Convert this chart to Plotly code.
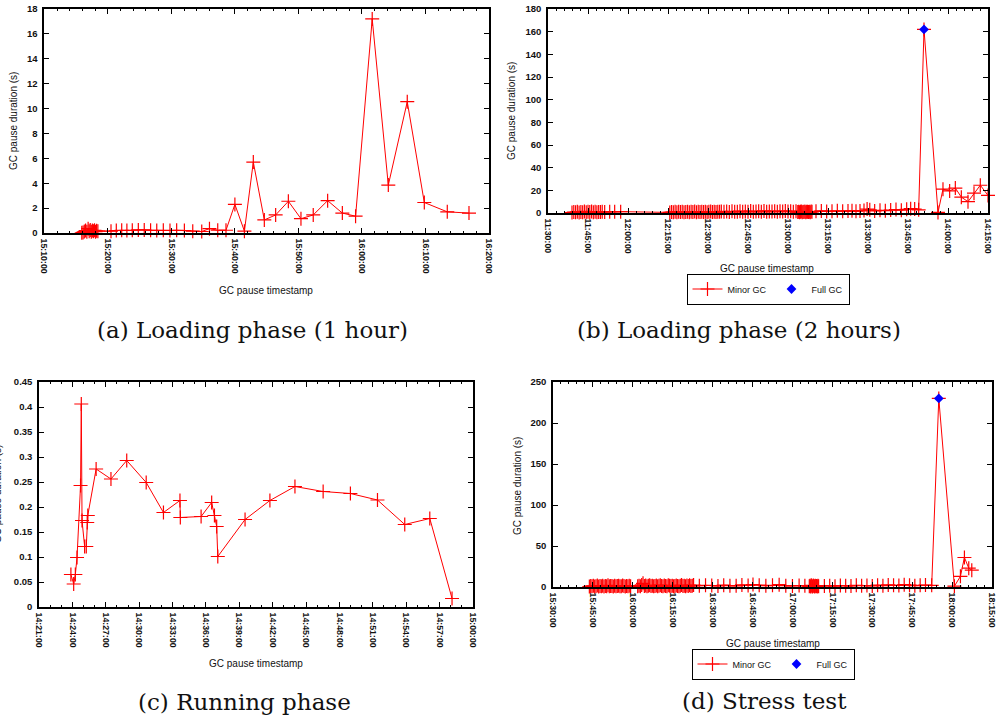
import pandas as pd
import plotly.graph_objects as go

DAY = "2015-06-01 "
W, H = 998, 717

# ---------------- (a) Loading phase (1 hour) ----------------
a_time = ["15:15:54", "15:16:06", "15:16:18", "15:16:30", "15:16:42", "15:16:54", "15:17:04",
          "15:17:14", "15:17:24", "15:17:34", "15:17:44", "15:17:54", "15:18:04", "15:18:14",
          "15:18:26", "15:20:30", "15:21:20", "15:22:11", "15:23:00", "15:23:51", "15:24:48",
          "15:25:44", "15:26:44", "15:27:42", "15:28:44", "15:29:47", "15:30:50", "15:32:03",
          "15:33:22", "15:34:47", "15:36:00", "15:37:18", "15:38:36", "15:40:00", "15:41:30",
          "15:42:54", "15:44:38", "15:46:25", "15:48:25", "15:50:24", "15:52:20", "15:54:36",
          "15:56:55", "15:59:00", "16:01:37", "16:04:09", "16:07:08", "16:09:49", "16:13:26",
          "16:16:51"]
a_pause = [0.02, 0.05, 0.12, 0.2, 0.1, 0.35, 0.15,
           0.25, 0.1, 0.2, 0.15, 0.22, 0.1, 0.18,
           0.15, 0.15, 0.2, 0.22, 0.2, 0.22, 0.25,
           0.25, 0.22, 0.2, 0.22, 0.2, 0.22, 0.2,
           0.15, 0.12, 0.35, 0.22, 0.22, 2.3, 0.15,
           5.7, 1.05, 1.45, 2.55, 1.15, 1.45, 2.6,
           1.6, 1.35, 17.2, 3.85, 10.55, 2.45, 1.7,
           1.6]

# ---------------- (b) Loading phase (2 hours) ----------------
b_minor_time = [
    "11:39:00", "11:39:40", "11:40:20", "11:41:00", "11:41:40", "11:42:20", "11:43:00", "11:43:40",
    "11:44:20", "11:45:00", "11:45:40", "11:46:20", "11:47:00", "11:47:40", "11:48:20", "11:49:00",
    "11:49:40", "11:50:20", "11:51:15", "11:53:08", "11:55:00", "11:57:15",
    "12:15:40", "12:16:20", "12:17:00", "12:17:40", "12:18:20", "12:19:00", "12:19:40", "12:20:20",
    "12:21:00", "12:21:40", "12:22:20", "12:23:00", "12:23:40", "12:24:20", "12:25:00", "12:25:40",
    "12:26:20", "12:27:00", "12:27:40", "12:28:20", "12:29:00", "12:29:40", "12:30:20", "12:31:00",
    "12:31:40", "12:32:20", "12:33:00", "12:33:40", "12:34:20", "12:35:00",
    "12:36:00", "12:37:00", "12:38:00", "12:39:00", "12:40:00", "12:41:00", "12:42:00", "12:43:00",
    "12:44:00", "12:45:00", "12:46:00", "12:47:00", "12:48:00", "12:49:00", "12:50:00", "12:51:00",
    "12:52:00", "12:53:00", "12:54:00", "12:55:00", "12:56:00", "12:57:00", "12:58:00", "12:59:00",
    "13:00:00", "13:01:00", "13:02:00", "13:03:00",
    "13:03:40", "13:04:00", "13:04:20", "13:04:40", "13:05:00", "13:05:20", "13:05:40", "13:06:00",
    "13:06:20", "13:06:40", "13:07:00", "13:07:20", "13:07:40", "13:08:00", "13:08:20", "13:08:40",
    "13:09:00",
    "13:10:30", "13:12:30", "13:14:30", "13:16:30", "13:18:30", "13:20:30", "13:22:30", "13:24:00",
    "13:25:30", "13:27:00", "13:28:30", "13:29:40", "13:30:40", "13:32:30", "13:34:30", "13:36:30",
    "13:38:30", "13:40:30", "13:42:30", "13:44:30", "13:46:00", "13:47:30", "13:49:00",
    "13:51:00",
    "13:56:15", "13:58:07", "14:00:37", "14:02:45", "14:05:00", "14:07:30", "14:09:45", "14:12:07",
    "14:15:00"]
b_minor_pause = [
    0.4, 0.8, 0.6, 1.2, 0.5, 0.9, 0.7, 1.4,
    0.6, 1.0, 0.8, 1.3, 0.7, 1.1, 0.6, 0.9,
    0.8, 1.2, 0.9, 1.1, 1.0, 1.2,
    0.5, 0.9, 0.7, 1.1, 0.6, 1.0, 0.8, 1.2,
    0.7, 0.9, 1.1, 0.6, 1.0, 0.8, 1.3, 0.7,
    1.0, 0.9, 1.2, 0.8, 1.1, 0.7, 1.0, 1.3,
    0.9, 1.1, 0.8, 1.2, 1.0, 1.4,
    1.0, 1.3, 0.9, 1.5, 1.1, 1.2, 1.6, 1.0,
    1.4, 1.2, 1.7, 1.1, 1.3, 1.5, 1.2, 1.8,
    1.1, 1.4, 1.3, 1.6, 1.2, 1.5, 1.4, 1.7,
    1.3, 1.6, 1.2, 1.5,
    0.8, 1.2, 0.6, 1.0, 1.4, 0.7, 1.1, 0.9,
    1.3, 0.6, 1.0, 1.2, 0.8, 1.1, 0.7, 1.3,
    1.0,
    1.5, 1.8, 1.4, 1.6, 1.9, 1.5, 1.7, 2.0,
    1.6, 1.8, 2.2, 3.5, 2.8, 1.8, 2.4, 2.0,
    2.6, 3.0, 2.5, 3.2, 3.8, 3.5, 2.8,
    162.0,
    0.5, 21.0, 19.5, 22.0, 14.0, 10.0, 17.5, 24.5,
    15.5]
b_full_time = ["13:51:00"]
b_full_pause = [162.0]

# ---------------- (c) Running phase ----------------
c_time = ["14:23:52", "14:24:07", "14:24:16", "14:24:25", "14:24:44", "14:24:48", "14:24:52",
          "14:25:06", "14:25:15", "14:25:20", "14:25:23", "14:26:08", "14:27:28", "14:28:53",
          "14:30:38", "14:32:11", "14:33:40", "14:33:42", "14:35:34", "14:36:31", "14:36:46",
          "14:36:58", "14:37:04", "14:39:31", "14:41:45", "14:44:00", "14:46:32", "14:48:59",
          "14:51:25", "14:53:52", "14:56:07", "14:58:07"]
c_pause = [0.065, 0.046, 0.065, 0.099, 0.243, 0.406, 0.173,
           0.121, 0.121, 0.169, 0.183, 0.276, 0.256, 0.293,
           0.249, 0.189, 0.213, 0.179, 0.181, 0.209, 0.183,
           0.161, 0.101, 0.175, 0.213, 0.241, 0.231, 0.227,
           0.214, 0.165, 0.177, 0.017]

# ---------------- (d) Stress test ----------------
d_minor_time = [
    "15:43:40", "15:44:10", "15:44:40", "15:45:10", "15:45:40", "15:46:10", "15:46:40", "15:47:10",
    "15:47:40", "15:48:10", "15:48:40", "15:49:10", "15:49:40", "15:50:10", "15:50:40", "15:51:10",
    "15:51:40", "15:52:10", "15:52:40", "15:53:10", "15:53:40", "15:54:10", "15:54:40", "15:55:10",
    "15:55:40", "15:56:10", "15:56:40", "15:57:10", "15:57:40", "15:58:10", "15:58:40", "15:59:10",
    "16:01:50", "16:02:20", "16:02:50", "16:03:20", "16:03:50", "16:04:20", "16:04:50", "16:05:20",
    "16:05:50", "16:06:20", "16:06:50", "16:07:20", "16:07:50", "16:08:20", "16:08:50", "16:09:20",
    "16:09:50", "16:10:20", "16:10:50", "16:11:20", "16:11:50", "16:12:20", "16:12:50", "16:13:20",
    "16:13:50", "16:14:20", "16:14:50", "16:15:20", "16:15:50", "16:16:20", "16:16:50", "16:17:20",
    "16:17:50", "16:18:20", "16:18:50", "16:19:20", "16:19:50", "16:20:20", "16:20:50", "16:21:20",
    "16:21:50", "16:22:20", "16:22:50",
    "16:25:00", "16:27:20", "16:29:40", "16:32:00", "16:34:10", "16:36:30", "16:38:50", "16:41:00",
    "16:43:20", "16:45:10", "16:47:30", "16:50:00", "16:52:30", "16:55:00", "16:57:30", "17:00:00",
    "17:02:30", "17:04:40",
    "17:06:20", "17:06:35", "17:06:50", "17:07:05", "17:07:20", "17:07:35", "17:07:50", "17:08:05",
    "17:08:20", "17:08:35", "17:08:50", "17:09:05", "17:09:20", "17:09:35", "17:09:50",
    "17:12:00", "17:14:00", "17:16:00", "17:18:00", "17:20:00", "17:22:00", "17:24:00", "17:26:00",
    "17:28:00", "17:30:00", "17:32:00", "17:34:00", "17:36:00", "17:38:00", "17:40:00", "17:42:00",
    "17:44:00", "17:46:00", "17:48:00", "17:50:00", "17:52:20",
    "17:55:00",
    "18:00:52", "18:03:08", "18:04:38", "18:06:16", "18:07:24"]
d_minor_pause = [
    0.5, 1.2, 0.8, 1.5, 0.7, 1.0, 1.8, 0.6,
    1.1, 0.9, 1.4, 0.7, 1.2, 1.0, 2.0, 0.8,
    1.3, 1.1, 0.6, 1.6, 0.9, 1.2, 1.4, 0.8,
    1.0, 1.7, 1.1, 0.7, 1.3, 0.9, 1.5, 1.0,
    1.0, 1.5, 0.8, 2.5, 4.5, 1.2, 1.8, 0.9,
    1.4, 2.0, 1.1, 1.6, 0.8, 1.3, 1.9, 1.0,
    1.5, 2.2, 1.2, 0.9, 1.7, 1.3, 1.0, 2.0,
    1.4, 1.1, 1.6, 0.9, 1.3, 1.8, 1.2, 1.0,
    1.5, 2.3, 1.1, 1.4, 1.0, 1.7, 1.2, 2.0,
    1.3, 1.6, 2.4,
    1.5, 2.0, 1.8, 1.2, 2.2, 1.6, 1.4, 2.5,
    1.8, 3.0, 2.2, 1.5, 2.0, 2.8, 1.6, 1.2,
    1.8, 1.4,
    0.8, 1.5, 0.6, 2.0, 1.0, 0.7, 1.8, 1.2,
    0.5, 1.6, 0.9, 1.3, 0.6, 1.4, 1.0,
    1.2, 1.6, 1.0, 1.8, 1.4, 1.2, 2.0, 1.5,
    1.8, 1.3, 2.2, 1.6, 2.5, 2.0, 1.8, 2.8,
    2.2, 1.5, 2.0, 2.4, 2.0,
    230.0,
    1.0, 13.0, 36.0, 23.0, 20.5]
d_full_time = ["17:55:00"]
d_full_pause = [230.0]

# ---------------- axes settings ----------------
panels = {
    "a": dict(x_range=["15:10:00", "16:20:00"], x_major=10, x_minor=2, y_range=[0, 18], y_dtick=2),
    "b": dict(x_range=["11:30:00", "14:15:00"], x_major=15, x_minor=3, y_range=[0, 180], y_dtick=20),
    "c": dict(x_range=["14:21:00", "15:00:00"], x_major=3, x_minor=1, y_range=[0, 0.45], y_dtick=0.05),
    "d": dict(x_range=["15:30:00", "18:15:00"], x_major=15, x_minor=3, y_range=[0, 250], y_dtick=50),
}
captions = ["(a) Loading phase (1 hour)", "(b) Loading phase (2 hours)",
            "(c) Running phase", "(d) Stress test"]
x_title = "GC pause timestamp"
y_title = "GC pause duration (s)"

RED = "#ff0000"
BLUE = "#0000ff"
YTICKFONT = dict(family="Liberation Sans", size=9.5, color="#111111", weight="bold")
XTICKFONT = dict(family="Liberation Sans", size=8.8, color="#111111", weight="bold")
TITLEFONT = dict(family="Liberation Sans", size=10, color="#111111")


def when(times):
    return pd.to_datetime([DAY + t for t in times])


def minor_trace(x, y, xa, ya, show=False, legend="legend"):
    return go.Scatter(
        x=when(x), y=y, xaxis=xa, yaxis=ya, mode="lines+markers", name="Minor GC",
        line=dict(color=RED, width=1),
        marker=dict(symbol="cross-thin", size=10, color=RED, line=dict(color=RED, width=1.2)),
        cliponaxis=False, showlegend=show, legend=legend)


def full_trace(x, y, xa, ya, legend):
    return go.Scatter(
        x=when(x), y=y, xaxis=xa, yaxis=ya, mode="markers", name="Full GC",
        marker=dict(symbol="diamond", size=7.5, color=BLUE, line=dict(width=0)),
        cliponaxis=False, showlegend=True, legend=legend)


fig = go.Figure()
fig.add_trace(minor_trace(a_time, a_pause, "x", "y"))
fig.add_trace(minor_trace(b_minor_time, b_minor_pause, "x2", "y2", show=True, legend="legend"))
fig.add_trace(full_trace(b_full_time, b_full_pause, "x2", "y2", legend="legend"))
fig.add_trace(minor_trace(c_time, c_pause, "x3", "y3"))
fig.add_trace(minor_trace(d_minor_time, d_minor_pause, "x4", "y4", show=True, legend="legend2"))
fig.add_trace(full_trace(d_full_time, d_full_pause, "x4", "y4", legend="legend2"))

# plot-area boxes in pixels: left, right, top, bottom
boxes = {"a": (44.3, 489, 9, 233), "b": (548, 988, 9, 213),
         "c": (39, 473, 382, 607), "d": (553, 992, 382, 587)}


def xaxis_cfg(p, anchor):
    cfg = panels[p]
    l, r, t, b = boxes[p]
    return dict(
        domain=[l / W, r / W], anchor=anchor, type="date",
        range=[DAY + cfg["x_range"][0], DAY + cfg["x_range"][1]],
        tickformat="%H:%M:%S", dtick=cfg["x_major"] * 60000, tick0=DAY + cfg["x_range"][0],
        tickangle=90, ticks="inside", ticklen=5, tickwidth=1, tickcolor="black",
        showline=True, linecolor="black", linewidth=1.5, mirror="allticks",
        showgrid=False, zeroline=False, tickfont=XTICKFONT, ticklabelstandoff=2,
        automargin=False,
        minor=dict(dtick=cfg["x_minor"] * 60000, ticks="inside", ticklen=2.5,
                   tickwidth=1, tickcolor="black", showgrid=False),
        fixedrange=True)


def yaxis_cfg(p, anchor):
    cfg = panels[p]
    l, r, t, b = boxes[p]
    return dict(
        domain=[1 - b / H, 1 - t / H], anchor=anchor, range=cfg["y_range"],
        dtick=cfg["y_dtick"], tick0=0, ticks="inside", ticklen=5, tickwidth=1,
        tickcolor="black", showline=True, linecolor="black", linewidth=1.5,
        mirror="allticks", showgrid=False, zeroline=False, tickfont=YTICKFONT,
        ticklabelstandoff=3, automargin=False, fixedrange=True)


annotations = []
# axis titles (pixel centres)
xt_pos = [(266, 290), (767, 269), (256, 663), (773, 643)]
yt_pos = [(13, 121), (511, 111), (-3, 494), (517, 486)]
cap_pos = [(253, 330), (739, 330), (244, 702), (764, 701)]
for (xx, yy) in xt_pos:
    annotations.append(dict(text=x_title, x=xx / W, y=1 - yy / H, xref="paper", yref="paper",
                            xanchor="center", yanchor="middle", showarrow=False, font=TITLEFONT))
for (xx, yy) in yt_pos:
    annotations.append(dict(text=y_title, x=xx / W, y=1 - yy / H, xref="paper", yref="paper",
                            xanchor="center", yanchor="middle", showarrow=False, textangle=-90,
                            font=TITLEFONT))
for cap, (xx, yy) in zip(captions, cap_pos):
    annotations.append(dict(text=cap, x=xx / W, y=1 - yy / H, xref="paper", yref="paper",
                            xanchor="center", yanchor="middle", showarrow=False,
                            font=dict(family="DejaVu Serif", size=23, color="#111111")))

legend_common = dict(orientation="h", xanchor="center", yanchor="middle",
                     bordercolor="black", borderwidth=1, bgcolor="white",
                     font=dict(family="Liberation Sans", size=9, color="#111111"),
                     itemwidth=30, tracegroupgap=0)

fig.update_layout(
    width=W, height=H, margin=dict(l=0, r=0, t=0, b=0, pad=0, autoexpand=False),
    paper_bgcolor="white", plot_bgcolor="white",
    xaxis=xaxis_cfg("a", "y"), yaxis=yaxis_cfg("a", "x"),
    xaxis2=xaxis_cfg("b", "y2"), yaxis2=yaxis_cfg("b", "x2"),
    xaxis3=xaxis_cfg("c", "y3"), yaxis3=yaxis_cfg("c", "x3"),
    xaxis4=xaxis_cfg("d", "y4"), yaxis4=yaxis_cfg("d", "x4"),
    legend=dict(x=768 / W, y=1 - 289 / H, **legend_common),
    legend2=dict(x=773 / W, y=1 - 664 / H, **legend_common),
    annotations=annotations,
)

fig.write_html("out.html")
